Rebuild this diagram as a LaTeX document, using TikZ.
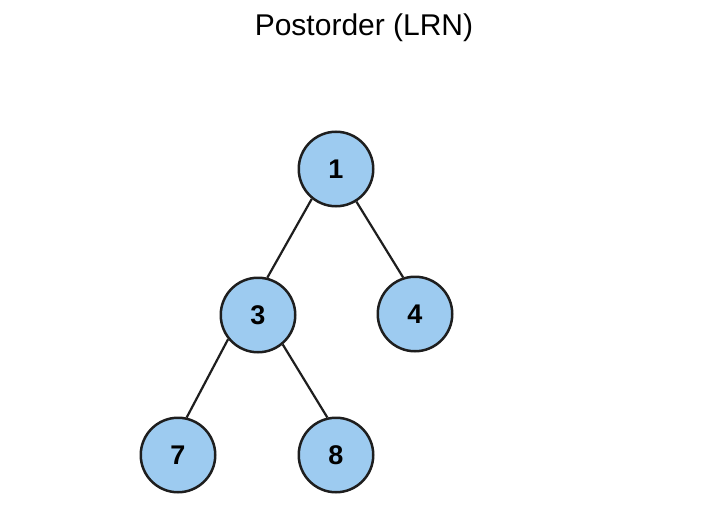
\documentclass[tikz,border=0pt]{standalone}
\usepackage{fontspec}
\setmainfont{Liberation Sans}
\definecolor{nodefill}{HTML}{9DCBF0}
\definecolor{edgecol}{HTML}{1E1E1E}
\begin{document}
\begin{tikzpicture}[x=1pt,y=-1pt,
  treenode/.style={circle,draw=edgecol,line width=2.5pt,fill=nodefill,minimum size=74.5pt,inner sep=0pt,font=\fontsize{27}{30}\selectfont\bfseries},
  treeedge/.style={draw=edgecol,line width=2.2pt}]
\useasboundingbox (0,0) rectangle (728,519);
\node[font=\fontsize{30}{34}\selectfont] (title) at (364,28) {Postorder (LRN)};
\node[treenode] (n1) at (336,169) {1};
\node[treenode] (n3) at (258,315) {3};
\node[treenode] (n4) at (415,314) {4};
\node[treenode] (n7) at (178,455) {7};
\node[treenode] (n8) at (336,455) {8};
\draw[treeedge] (n1.231) -- (n3.76);
\draw[treeedge] (n1.302) -- (n4.108);
\draw[treeedge] (n3.219) -- (n7.77);
\draw[treeedge] (n3.310) -- (n8.103);
\end{tikzpicture}
\end{document}
